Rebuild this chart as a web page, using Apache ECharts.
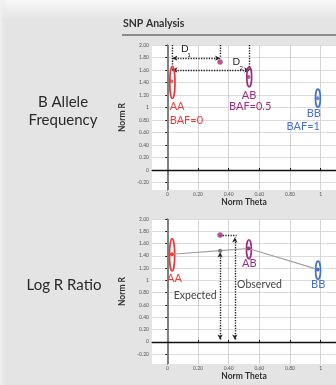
<!DOCTYPE html>
<html><head><meta charset="utf-8">
<script src="https://cdn.jsdelivr.net/npm/echarts@6/dist/echarts.min.js"></script>
<style>html,body{margin:0;padding:0;background:#e4e4e4}#c{width:336px;height:385px}</style>
</head><body><div id="c"></div>
<script>
// ---- data ----
const xTicks = [0, 0.2, 0.4, 0.6, 0.8, 1];
const yTicks = [-0.2, 0, 0.2, 0.4, 0.6, 0.8, 1, 1.2, 1.4, 1.6, 1.8, 2];
const genotypes = ['AA', 'AB', 'BB'];
const bafLabels = ['BAF=0', 'BAF=0.5', 'BAF=1'];
// B Allele Frequency panel: cluster centres / extents
const bafCx = [0.033, 0.534, 0.982];
const bafCy = [1.40, 1.49, 1.15];
const bafRx = [0.017, 0.016, 0.016];
const bafRy = [0.256, 0.16, 0.144];
const bafDotX = [0.026, 0.53, 0.98];
const bafDotY = [1.42, 1.49, 1.15];
const bafSample = [0.344, 1.73];
const d1Level = 1.79;
const d2Level = 1.60;
// Log R Ratio panel
const lrrCx = [0.031, 0.532, 0.983];
const lrrCy = [1.415, 1.507, 1.165];
const lrrRx = [0.017, 0.016, 0.016];
const lrrRy = [0.26, 0.155, 0.148];
const lrrCurveX = [0.03, 0.344, 0.53, 0.98];
const lrrCurveY = [1.426, 1.485, 1.52, 1.18];
const lrrSample = [0.344, 1.74];
const observedX = 0.44;

// ---- styles ----
const genoColors = ['#ee3b3b', '#9c2f7c', '#4a72c4'];
const FONT = 'Lato';
const dotted = { type: [1.3, 1.3], color: '#222', width: 1.4 };

function fmt(v) {
  if (Math.abs(v) < 1e-9) return '0';
  if (Math.abs(v - 1) < 1e-9) return '1';
  return v.toFixed(2);
}

function xAxisDef(gi) {
  return {
    type: 'value', gridIndex: gi, min: -0.1, max: 1.1,
    name: 'Norm Theta', nameLocation: 'middle', nameGap: 8,
    nameTextStyle: { fontFamily: FONT, fontWeight: 'bold', fontSize: 8.5, color: '#333' },
    axisLine: { show: true, lineStyle: { color: '#111', width: 1 } },
    axisTick: { show: true, inside: true, length: 2, customValues: xTicks, lineStyle: { color: '#111' } },
    axisLabel: { customValues: xTicks, formatter: fmt, fontSize: 5, color: '#555', margin: 2, fontFamily: FONT },
    splitLine: { show: true, lineStyle: { color: '#d4d4d4', width: 1 } }
  };
}
function yAxisDef(gi, min) {
  return {
    type: 'value', gridIndex: gi, min: min, max: 2,
    name: 'Norm R', nameLocation: 'middle', nameGap: 24, nameRotate: 90,
    nameTextStyle: { fontFamily: FONT, fontWeight: 'bold', fontSize: 8.5, color: '#333' },
    axisLine: { show: true, lineStyle: { color: '#111', width: 1 } },
    axisTick: { show: true, length: 2, customValues: yTicks, lineStyle: { color: '#111' } },
    axisLabel: { customValues: yTicks, formatter: fmt, fontSize: 5, color: '#555', margin: 3, fontFamily: FONT },
    splitLine: { show: true, lineStyle: { color: '#dcdcdc', width: 1 } }
  };
}

function ellipseSeries(gi, cx, cy, rx, ry) {
  return {
    type: 'custom', xAxisIndex: gi, yAxisIndex: gi, z: 5,
    data: cx.map((x, i) => [x, cy[i], rx[i], ry[i], i]),
    renderItem: function (params, api) {
      const c = api.coord([api.value(0), api.value(1)]);
      const s = api.size([api.value(2), api.value(3)]);
      return {
        type: 'ellipse',
        shape: { cx: c[0], cy: c[1], rx: s[0], ry: s[1] },
        style: { fill: 'none', stroke: genoColors[api.value(4)], lineWidth: 1.7 }
      };
    }
  };
}

function textSeries(gi, items) {
  return {
    type: 'custom', xAxisIndex: gi, yAxisIndex: gi, z: 8, silent: true,
    data: items.map(it => [it.x, it.y]),
    renderItem: function (params, api) {
      const it = items[params.dataIndex];
      const c = api.coord([api.value(0), api.value(1)]);
      return {
        type: 'text', x: c[0], y: c[1],
        style: {
          text: it.text, fill: it.color, fontFamily: FONT, fontSize: it.size || 11,
          align: it.align || 'center', verticalAlign: 'middle'
        }
      };
    }
  };
}

function baseLines(gi) {
  return {
    type: 'line', xAxisIndex: gi, yAxisIndex: gi, data: [], silent: true, z: 3,
    markLine: {
      silent: true, symbol: ['none', 'none'], label: { show: false },
      animation: false,
      data: [
        { xAxis: 0, lineStyle: { color: '#808080', width: 2, type: 'solid' } },
        { yAxis: 0, lineStyle: { color: '#111', width: 1.4, type: 'solid' } }
      ]
    }
  };
}

function arrowLine(a, b, arrows) {
  return [
    { coord: a, symbol: arrows ? 'arrow' : 'none' },
    { coord: b, symbol: arrows ? 'arrow' : 'none' }
  ];
}

const topTexts = [
  { x: 0.015, y: 1.01, text: genotypes[0], color: genoColors[0], align: 'left' },
  { x: 0.015, y: 0.80, text: bafLabels[0], color: genoColors[0], align: 'left' },
  { x: 0.533, y: 1.20, text: genotypes[1], color: genoColors[1] },
  { x: 0.54, y: 1.02, text: bafLabels[1], color: genoColors[1] },
  { x: 0.955, y: 0.90, text: genotypes[2], color: genoColors[2] },
  { x: 0.995, y: 0.69, text: bafLabels[2], color: genoColors[2], align: 'right' },
  { x: 0.114, y: 1.94, text: 'D', color: '#222', size: 10 },
  { x: 0.142, y: 1.835, text: '1', color: '#222', size: 6 },
  { x: 0.45, y: 1.73, text: 'D', color: '#222', size: 10 },
  { x: 0.482, y: 1.63, text: '2', color: '#222', size: 6 }
];
const botTexts = [
  { x: 0.047, y: 1.035, text: genotypes[0], color: genoColors[0] },
  { x: 0.535, y: 1.27, text: genotypes[1], color: genoColors[1] },
  { x: 0.984, y: 0.93, text: genotypes[2], color: genoColors[2] },
  { x: 0.455, y: 0.93, text: 'Observed', color: '#444', align: 'left', size: 10.5 },
  { x: 0.322, y: 0.75, text: 'Expected', color: '#444', align: 'right', size: 10.5 }
];

const chart = echarts.init(document.getElementById('c'), null, { renderer: 'canvas' });
chart.setOption({
  animation: false,
  backgroundColor: '#e4e4e4',
  grid: [
    { left: 152, top: 45, width: 185, height: 145, show: true, backgroundColor: '#fff', borderWidth: 0 },
    { left: 152, top: 219, width: 185, height: 145, show: true, backgroundColor: '#fff', borderWidth: 0 }
  ],
  xAxis: [xAxisDef(0), xAxisDef(1)],
  yAxis: [yAxisDef(0, -0.32), yAxisDef(1, -0.36)],
  graphic: [
    { type: 'rect', left: 0, top: 0, z: -10, shape: { width: 336, height: 20 },
      style: { fill: new echarts.graphic.LinearGradient(0, 0, 0, 1, [{ offset: 0, color: '#f7f7f7' }, { offset: 1, color: '#e4e4e4' }]) } },
    { type: 'rect', left: 0, top: 0, z: -10, shape: { width: 6, height: 385 },
      style: { fill: new echarts.graphic.LinearGradient(0, 0, 1, 0, [{ offset: 0, color: '#f2f2f2' }, { offset: 1, color: 'rgba(228,228,228,0)' }]) } },
    { type: 'text', left: 123, top: 18, style: { text: 'SNP Analysis', fontFamily: FONT, fontWeight: 'bold', fontSize: 10.5, fill: '#333' } },
    { type: 'line', shape: { x1: 122, y1: 35, x2: 336, y2: 35 }, style: { stroke: '#333', lineWidth: 1 } },
    { type: 'text', x: 63, y: 111, style: { text: 'B Allele\nFrequency', align: 'center', verticalAlign: 'middle', lineHeight: 17.5, fontFamily: FONT, fontSize: 15, fill: '#2a2a2a' } },
    { type: 'text', x: 64, y: 285, style: { text: 'Log R Ratio', align: 'center', verticalAlign: 'middle', fontFamily: FONT, fontSize: 15, fill: '#2a2a2a' } }
  ],
  series: [
    // ---- top panel ----
    baseLines(0),
    ellipseSeries(0, bafCx, bafCy, bafRx, bafRy),
    {
      type: 'scatter', xAxisIndex: 0, yAxisIndex: 0, symbolSize: 4, z: 6, silent: true,
      data: bafDotX.map((x, i) => ({ value: [x, bafDotY[i]], itemStyle: { color: genoColors[i] } }))
    },
    {
      type: 'scatter', xAxisIndex: 0, yAxisIndex: 0, symbolSize: 5.5, z: 6, silent: true,
      data: [bafSample], itemStyle: { color: genoColors[1] },
      markLine: {
        silent: true, label: { show: false }, symbol: ['none', 'none'], symbolSize: [4, 5],
        lineStyle: dotted,
        data: [
          arrowLine([bafCx[0], 2], [bafCx[0], d2Level], false),
          arrowLine([bafSample[0], 2], [bafSample[0], d1Level], false),
          arrowLine([bafCx[1], 2], [bafCx[1], d2Level], false),
          arrowLine([bafCx[0], d1Level], [bafSample[0], d1Level], true),
          arrowLine([bafCx[0], d2Level], [bafCx[1], d2Level], true)
        ]
      }
    },
    textSeries(0, topTexts),
    // ---- bottom panel ----
    baseLines(1),
    ellipseSeries(1, lrrCx, lrrCy, lrrRx, lrrRy),
    {
      type: 'line', xAxisIndex: 1, yAxisIndex: 1, z: 6, silent: true,
      symbol: 'circle', symbolSize: 4,
      lineStyle: { color: '#a0a0a0', width: 1.2 },
      data: lrrCurveX.map((x, i) => ({
        value: [x, lrrCurveY[i]],
        itemStyle: { color: [genoColors[0], '#777', genoColors[1], genoColors[2]][i] }
      }))
    },
    {
      type: 'scatter', xAxisIndex: 1, yAxisIndex: 1, symbolSize: 5.5, z: 6, silent: true,
      data: [lrrSample], itemStyle: { color: genoColors[1] },
      markLine: {
        silent: true, label: { show: false }, symbol: ['none', 'none'], symbolSize: [4, 5],
        lineStyle: dotted,
        data: [
          arrowLine([lrrSample[0], lrrSample[1]], [observedX + 0.012, lrrSample[1]], false),
          arrowLine([lrrCurveX[1], 0.04], [lrrCurveX[1], lrrCurveY[1] - 0.03], true),
          arrowLine([observedX, 0.04], [observedX, lrrSample[1] - 0.04], true)
        ]
      }
    },
    textSeries(1, botTexts)
  ]
});
</script></body></html>
